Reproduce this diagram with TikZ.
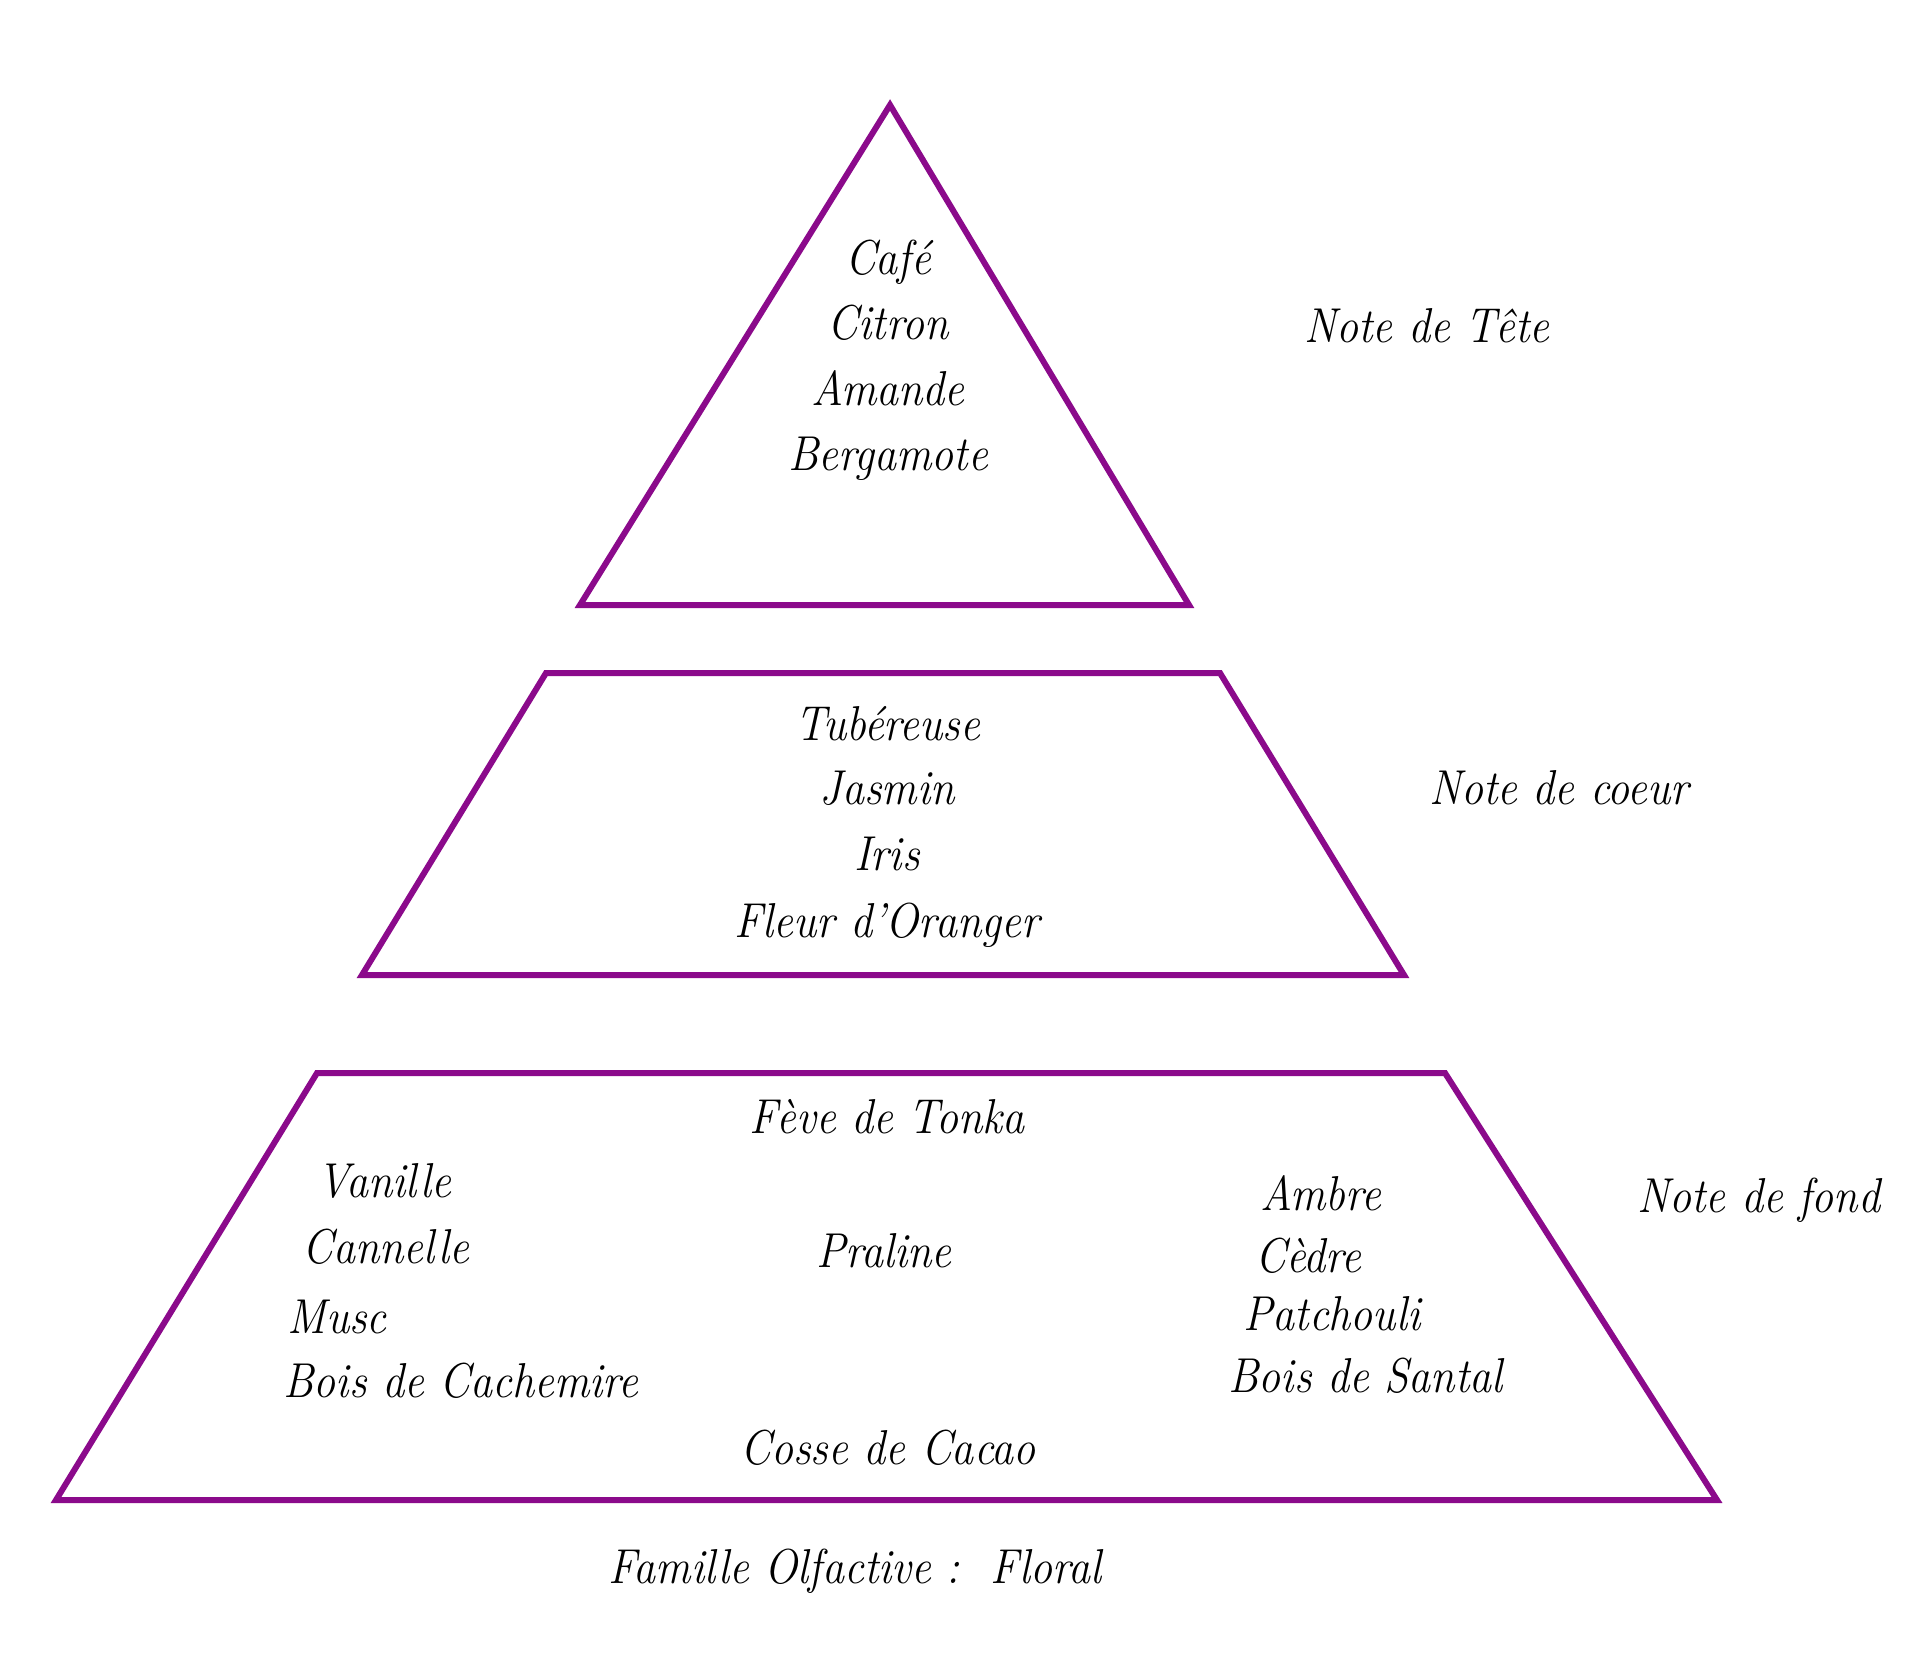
\documentclass[tikz,border=0pt]{standalone}
\usepackage{fontspec}
\usepackage{graphicx}
\setmainfont{Latin Modern Roman}
\definecolor{pyr}{HTML}{8B0A8B}
\newcommand{\nt}[1]{\scalebox{0.9}[1]{#1}}
\begin{document}
\begin{tikzpicture}[x=0.5pt,y=-0.5pt,
  pyrshape/.style={draw=pyr,line width=3pt,line join=miter},
  lbl/.style={font=\fontsize{24.5}{29}\selectfont\itshape,inner sep=0pt,anchor=base},
  lblw/.style={lbl,anchor=base west}]
\useasboundingbox[fill=white] (0,0) rectangle (1920,1676);
% shapes
\draw[pyrshape] (890,105) coordinate (t1) -- (1189,605) coordinate (t2) -- (580,605) coordinate (t3) -- cycle;
\draw[pyrshape] (546,673) coordinate (m1) -- (1220,673) coordinate (m2) -- (1404,975) coordinate (m3) -- (362,975) coordinate (m4) -- cycle;
\draw[pyrshape] (317,1073) coordinate (b1) -- (1445,1073) coordinate (b2) -- (1717,1500) coordinate (b3) -- (56,1500) coordinate (b4) -- cycle;
% top
\node[lbl] (cafe) at (888,274) {\nt{Café}};
\node[lbl] (citron) at (888,339) {\nt{Citron}};
\node[lbl] (amande) at (888,405) {\nt{Amande}};
\node[lbl] (berg) at (888,470) {\nt{Bergamote}};
\node[lbl] (tete) at (1427,342) {\nt{Note de Tête}};
% middle
\node[lbl] (tub) at (888,740) {\nt{Tubéreuse}};
\node[lbl] (jasmin) at (887,804) {\nt{Jasmin}};
\node[lbl] (iris) at (887,870) {\nt{Iris}};
\node[lbl] (fleur) at (887,937) {\nt{Fleur d’Oranger}};
\node[lbl] (coeur) at (1559,804) {\nt{Note de coeur}};
% bottom
\node[lbl] (feve) at (887,1133) {\nt{Fève de Tonka}};
\node[lblw] (vanille) at (317,1197) {\nt{Vanille}};
\node[lblw] (cannelle) at (302,1263) {\nt{Cannelle}};
\node[lblw] (musc) at (287,1333) {\nt{Musc}};
\node[lblw] (cachemire) at (283,1397) {\nt{Bois de Cachemire}};
\node[lbl] (praline) at (884,1267) {\nt{Praline}};
\node[lblw] (ambre) at (1260,1210) {\nt{Ambre}};
\node[lblw] (cedre) at (1255,1272) {\nt{Cèdre}};
\node[lblw] (patch) at (1243,1330) {\nt{Patchouli}};
\node[lblw] (santal) at (1228,1392) {\nt{Bois de Santal}};
\node[lbl] (cosse) at (888,1464) {\nt{Cosse de Cacao}};
\node[lblw] (fond) at (1637,1212) {\nt{Note de fond}};
\node[lbl] (famille) at (855,1583) {\nt{Famille Olfactive :\ \ Floral}};
\end{tikzpicture}
\end{document}
